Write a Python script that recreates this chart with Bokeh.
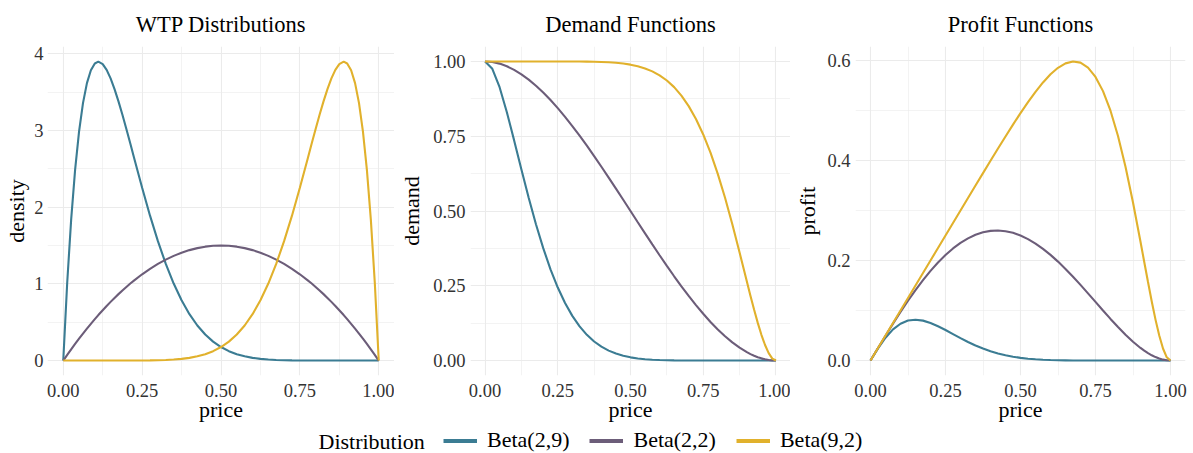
from bokeh.plotting import figure
from bokeh.models import (Range1d, FixedTicker, NumeralTickFormatter, ColumnDataSource,
                          Legend, LegendItem, Label)
from bokeh.layouts import row, column
from bokeh.embed import file_html
from bokeh.resources import INLINE

# ---------------- data ----------------
series_names = ["Beta(2,9)", "Beta(2,2)", "Beta(9,2)"]
panel_titles = ["WTP Distributions", "Demand Functions", "Profit Functions"]

# WTP density panel (denser sampling near the sharp peaks)
price_d = [0.0, 0.0125, 0.025, 0.0375, 0.05, 0.0625, 0.075, 0.0875, 0.1, 0.1111,
           0.125, 0.1375, 0.15, 0.1625, 0.175, 0.1875, 0.2, 0.2125, 0.225,
           0.25, 0.275, 0.3, 0.325, 0.35, 0.375, 0.4, 0.425, 0.45, 0.475,
           0.5, 0.525, 0.55, 0.575, 0.6, 0.625, 0.65, 0.675, 0.7, 0.725, 0.75,
           0.775, 0.7875, 0.8, 0.8125, 0.825, 0.8375, 0.85, 0.8625, 0.875, 0.8889,
           0.9, 0.9125, 0.925, 0.9375, 0.95, 0.9625, 0.975, 0.9875, 1.0]
density_b29 = [0, 1.017, 1.838, 2.486, 2.985, 3.357, 3.618, 3.785, 3.874, 3.897,
               3.866, 3.790, 3.679, 3.540, 3.380, 3.205, 3.020, 2.829, 2.635,
               2.253, 1.889, 1.557, 1.260, 1.004, 0.786, 0.605, 0.457, 0.339, 0.247,
               0.176, 0.122, 0.083, 0.055, 0.035, 0.022, 0.013, 0.008, 0.004, 0.002, 0.001,
               0.0005, 0.0003, 0.0002, 0.0001, 0.0001, 0, 0, 0, 0, 0,
               0, 0, 0, 0, 0, 0, 0, 0, 0]
density_b22 = [0, 0.074, 0.146, 0.217, 0.285, 0.352, 0.416, 0.479, 0.540, 0.593,
               0.656, 0.712, 0.765, 0.817, 0.866, 0.914, 0.960, 1.004, 1.046,
               1.125, 1.196, 1.260, 1.316, 1.365, 1.406, 1.440, 1.466, 1.485, 1.496,
               1.500, 1.496, 1.485, 1.466, 1.440, 1.406, 1.365, 1.316, 1.260, 1.196, 1.125,
               1.046, 1.004, 0.960, 0.914, 0.866, 0.817, 0.765, 0.712, 0.656, 0.593,
               0.540, 0.479, 0.416, 0.352, 0.285, 0.217, 0.146, 0.074, 0]
density_b92 = [0, 0, 0, 0, 0, 0, 0, 0, 0, 0,
               0, 0, 0, 0, 0.0001, 0.0001, 0.0002, 0.0003, 0.0005,
               0.001, 0.002, 0.004, 0.008, 0.013, 0.022, 0.035, 0.055, 0.083, 0.122,
               0.176, 0.247, 0.339, 0.457, 0.605, 0.786, 1.004, 1.260, 1.557, 1.889, 2.253,
               2.635, 2.829, 3.020, 3.205, 3.380, 3.540, 3.679, 3.790, 3.866, 3.897,
               3.874, 3.785, 3.618, 3.357, 2.985, 2.486, 1.838, 1.017, 0]

# demand and profit panels
price = [0.0, 0.025, 0.05, 0.075, 0.1, 0.125, 0.15, 0.175, 0.2, 0.225,
         0.25, 0.275, 0.3, 0.325, 0.35, 0.375, 0.4, 0.425, 0.45, 0.475,
         0.5, 0.525, 0.55, 0.575, 0.6, 0.625, 0.65, 0.675, 0.7, 0.725,
         0.75, 0.775, 0.8, 0.825, 0.85, 0.875, 0.9, 0.9125, 0.925, 0.9375,
         0.95, 0.9625, 0.975, 0.9875, 1.0]

demand_b29 = [1.0, 0.9754, 0.9139, 0.8304, 0.7361, 0.6389, 0.5443, 0.4559, 0.3758, 0.3051,
              0.2440, 0.1923, 0.1493, 0.1142, 0.0860, 0.0637, 0.0464, 0.0332, 0.0233, 0.0160,
              0.0107, 0.0071, 0.0045, 0.0028, 0.0017, 0.0010, 0.0005, 0.0003, 0.0001, 0.0001,
              0, 0, 0, 0, 0, 0, 0, 0, 0, 0,
              0, 0, 0, 0, 0]
demand_b22 = [1.0, 0.9982, 0.9928, 0.9840, 0.9720, 0.9570, 0.9393, 0.9188, 0.8960, 0.8709,
              0.8438, 0.8147, 0.7840, 0.7518, 0.7183, 0.6836, 0.6480, 0.6117, 0.5748, 0.5375,
              0.5000, 0.4625, 0.4253, 0.3883, 0.3520, 0.3164, 0.2818, 0.2482, 0.2160, 0.1853,
              0.1563, 0.1291, 0.1040, 0.0812, 0.0608, 0.0430, 0.0280, 0.0216, 0.0160, 0.0112,
              0.0073, 0.0041, 0.0018, 0.0005, 0]
demand_b92 = [1.0, 1.0, 1.0, 1.0, 1.0, 1.0, 1.0, 1.0, 1.0, 1.0,
              1.0, 0.9999, 0.9999, 0.9997, 0.9995, 0.9990, 0.9983, 0.9972, 0.9955, 0.9930,
              0.9893, 0.9840, 0.9767, 0.9669, 0.9536, 0.9363, 0.9141, 0.8858, 0.8507, 0.8077,
              0.7560, 0.6949, 0.6242, 0.5441, 0.4557, 0.3611, 0.2639, 0.2160, 0.1696, 0.1259,
              0.0861, 0.0519, 0.0246, 0.0066, 0]

profit_b29 = [0, 0.0244, 0.0457, 0.0623, 0.0736, 0.0799, 0.0816, 0.0798, 0.0752, 0.0686,
              0.0610, 0.0529, 0.0448, 0.0371, 0.0301, 0.0239, 0.0185, 0.0141, 0.0105, 0.0076,
              0.0054, 0.0037, 0.0025, 0.0016, 0.0010, 0.0006, 0.0004, 0.0002, 0.0001, 0.0001,
              0, 0, 0, 0, 0, 0, 0, 0, 0, 0,
              0, 0, 0, 0, 0]
profit_b22 = [0, 0.0250, 0.0496, 0.0738, 0.0972, 0.1196, 0.1409, 0.1608, 0.1792, 0.1960,
              0.2109, 0.2241, 0.2352, 0.2443, 0.2514, 0.2564, 0.2592, 0.2600, 0.2586, 0.2553,
              0.2500, 0.2428, 0.2339, 0.2233, 0.2112, 0.1978, 0.1831, 0.1676, 0.1512, 0.1343,
              0.1172, 0.1000, 0.0832, 0.0670, 0.0516, 0.0376, 0.0252, 0.0197, 0.0148, 0.0105,
              0.0069, 0.0040, 0.0018, 0.0005, 0]
profit_b92 = [0, 0.025, 0.05, 0.075, 0.1, 0.125, 0.15, 0.175, 0.2, 0.225,
              0.25, 0.275, 0.3, 0.3249, 0.3498, 0.3746, 0.3993, 0.4238, 0.4480, 0.4717,
              0.4946, 0.5166, 0.5372, 0.5559, 0.5722, 0.5852, 0.5941, 0.5979, 0.5955, 0.5856,
              0.5670, 0.5386, 0.4994, 0.4489, 0.3873, 0.3160, 0.2375, 0.1971, 0.1569, 0.1180,
              0.0818, 0.0499, 0.0240, 0.0065, 0]

x_ticks = [0, 0.25, 0.5, 0.75, 1.0]
x_minor = [0.125, 0.375, 0.625, 0.875]

# ---------------- styling ----------------
FONT = "Liberation Serif"
COLORS = ["#3B7C93", "#6C5D79", "#E1B12C"]
GRID = "#EBEBEB"
H = 453


def panel(title, ylabel, xs, ys, yrange, yticks, yminor, yfmt, width, left, right,
          tick_standoff, lab_standoff):
    p = figure(width=width, height=H, x_range=Range1d(-0.05, 1.05),
               y_range=Range1d(*yrange), output_backend="svg", toolbar_location=None,
               min_border_left=left, min_border_right=right, min_border_top=46,
               min_border_bottom=78, title=title)
    p.title.text_font = FONT
    p.title.text_font_size = "22.5px"
    p.title.text_font_style = "normal"
    p.title.align = "center"
    p.title.vertical_align = "top"
    p.title.text_color = "#000000"
    p.title.standoff = 16
    p.outline_line_color = None

    src = ColumnDataSource(dict(price=xs, a=ys[0], b=ys[1], c=ys[2]))
    for col, color in zip(["a", "b", "c"], COLORS):
        p.line("price", col, source=src, line_color=color, line_width=2.1)

    p.xaxis.ticker = FixedTicker(ticks=x_ticks, minor_ticks=x_minor)
    p.yaxis.ticker = FixedTicker(ticks=yticks, minor_ticks=yminor)
    p.xaxis.formatter = NumeralTickFormatter(format="0.00")
    p.yaxis.formatter = NumeralTickFormatter(format=yfmt)
    p.xaxis.axis_label = "price"
    p.yaxis.axis_label = ylabel
    for ax in (p.xaxis[0], p.yaxis[0]):
        ax.axis_line_color = None
        ax.major_tick_line_color = None
        ax.minor_tick_line_color = None
        ax.major_tick_out = 0
        ax.major_tick_in = 0
        ax.minor_tick_out = 0
        ax.minor_tick_in = 0
        ax.major_label_text_font = FONT
        ax.major_label_text_font_size = "18.5px"
        ax.major_label_text_color = "#333333"
        ax.axis_label_text_font = FONT
        ax.axis_label_text_font_size = "22px"
        ax.axis_label_text_font_style = "normal"
        ax.axis_label_text_color = "#000000"
    p.xaxis.major_label_standoff = 8
    p.xaxis.axis_label_standoff = -3
    p.yaxis.major_label_standoff = tick_standoff
    p.yaxis.axis_label_standoff = lab_standoff
    for g in (p.xgrid[0], p.ygrid[0]):
        g.grid_line_color = GRID
        g.grid_line_width = 1.1
        g.minor_grid_line_color = GRID
        g.minor_grid_line_width = 0.6
    return p


p1 = panel(panel_titles[0], "density", price_d, [density_b29, density_b22, density_b92],
           (-0.195, 4.095), [0, 1, 2, 3, 4], [0.5, 1.5, 2.5, 3.5], "0",
           394, 47, 0, 4, 2)
p2 = panel(panel_titles[1], "demand", price, [demand_b29, demand_b22, demand_b92],
           (-0.05, 1.05), [0, 0.25, 0.5, 0.75, 1.0], [0.125, 0.375, 0.625, 0.875], "0.00",
           396, 76, 0, 5, 6)
p3 = panel(panel_titles[2], "profit", price, [profit_b29, profit_b22, profit_b92],
           (-0.0299, 0.6278), [0, 0.2, 0.4, 0.6], [0.1, 0.3, 0.5], "0.0",
           403, 65, 8, 5, 4)

# ---------------- legend strip (overlaps the empty bottom band of the panels) ----------------
leg = figure(width=1193, height=33, x_range=Range1d(0, 1), y_range=Range1d(5, 6),
             output_backend="svg", toolbar_location=None, x_axis_type=None,
             y_axis_type=None, min_border=0, margin=(-33, 0, 0, 0))
leg.outline_line_color = None
leg.background_fill_color = None
leg.border_fill_color = None
items = []
for name, color, ys in zip(series_names, COLORS, [demand_b29, demand_b22, demand_b92]):
    # data lie outside this strip's y range, so only the legend swatches show
    r = leg.line(x=price, y=ys, line_color=color, line_width=4)
    items.append(LegendItem(label=name, renderers=[r]))
legend = Legend(items=items, orientation="horizontal", location=(443, 0),
                glyph_width=34, glyph_height=25, label_standoff=10, spacing=20,
                padding=0, margin=0, border_line_color=None, background_fill_alpha=0,
                label_text_font=FONT, label_text_font_size="22px",
                label_text_color="#000000")
leg.add_layout(legend)
leg.add_layout(Label(x=318, y=12.5, x_units="screen", y_units="screen",
                     text="Distribution", text_font=FONT, text_font_size="22px",
                     text_baseline="middle", text_color="#000000"))

layout = column(row(p1, p2, p3), leg)
open("out.html", "w").write(file_html(layout, INLINE))
